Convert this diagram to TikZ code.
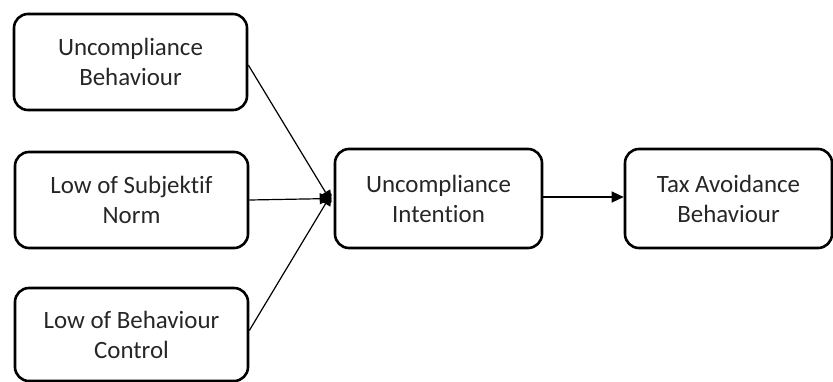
\documentclass[tikz,border=0pt]{standalone}
\usepackage{fontspec}
\setmainfont{Carlito}[Ligatures={NoCommon,NoDiscretionary,NoContextual}]
\usetikzlibrary{arrows.meta}
\begin{document}
\begin{tikzpicture}[x=1bp,y=-1bp,
  box/.style={draw=black, line width=2.6bp, rounded corners=14bp, align=center,
    inner sep=0pt, font=\fontsize{25}{30}\selectfont, text=black!85},
  conn/.style={line width=1.2bp, -{Triangle[length=12bp,width=11bp]}}]
\useasboundingbox (0,0) rectangle (833,381);
\node[box, minimum width=233bp, minimum height=96bp] (b1) at (130.5,62) {Uncompliance\\Behaviour};
\node[box, minimum width=233bp, minimum height=96bp] (b2) at (131.5,200) {Low of Subjektif\\Norm};
\node[box, minimum width=233bp, minimum height=93bp] (b3) at (131.5,334.5) {Low of Behaviour\\Control};
\node[box, minimum width=207bp, minimum height=99bp] (b4) at (438.5,198.5) {Uncompliance\\Intention};
\node[box, minimum width=207bp, minimum height=99bp] (b5) at (728.5,198.5) {Tax Avoidance\\Behaviour};
\coordinate (t1) at ([xshift=-2bp,yshift=-4bp]b4.west);
\coordinate (t2) at ([xshift=-2bp]b4.west);
\coordinate (t3) at ([xshift=-2bp,yshift=5bp]b4.west);
\draw[conn] ([yshift=-3bp]b1.east) -- (t1);
\draw[conn] (b2.east) -- (t2);
\draw[conn] ([yshift=4bp]b3.east) -- (t3);
\draw[conn] ([yshift=1.5bp]b4.east) -- ([yshift=1.5bp]b5.west);
\end{tikzpicture}
\end{document}
